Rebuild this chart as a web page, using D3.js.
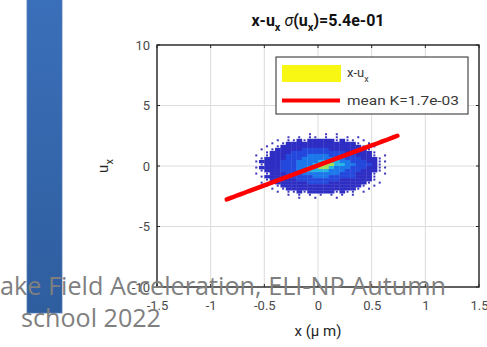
<!DOCTYPE html>
<html><head><meta charset="utf-8">
<script src="https://cdn.jsdelivr.net/npm/d3@7"></script>
<style>body{margin:0;background:#fff}svg{display:block}</style>
</head><body>
<script>
// ---- data ----
const xTicks = [-1.5, -1, -0.5, 0, 0.5, 1, 1.5];
const yTicks = [-10, -5, 0, 5, 10];
const xTickLabels = ["-1.5", "-1", "-0.5", "0", "0.5", "1", "1.5"];
const yTickLabels = ["-10", "-5", "0", "5", "10"];
// density grid: columns x from -0.65 to 0.65 step 0.05, rows y from 2.75 down to -2.75 step 0.25
const densX0 = -0.65, densDX = 0.05, densY0 = 2.75, densDY = 0.25;
const densityRows = [
  "00000000000100101000000000",
  "00000001010110101010100000",
  "00000101121222221211010000",
  "00001012222222222222101000",
  "00010122222222222222210100",
  "00101222223333322222221000",
  "00012222333333333322222100",
  "01012223333444433333222101",
  "00122223334444444433322210",
  "01222233344445555443332211",
  "00122233344455665544333210",
  "01222233344556654443332211",
  "00122233344555544433322210",
  "01012223334444444333222101",
  "00122222333344433333222100",
  "00012222233333333222222100",
  "00101222222333322222221010",
  "00010122222222222222210100",
  "00001012222222222222101000",
  "00000101121222221211010000",
  "00000001010101010101000000",
  "00000000010010001000000000"
];
const meanX = [-0.85,-0.8,-0.75,-0.7,-0.65,-0.6,-0.55,-0.5,-0.45,-0.4,-0.35,-0.3,-0.25,-0.2,-0.15,-0.1,-0.05,0,0.05,0.1,0.15,0.2,0.25,0.3,0.35,0.4,0.45,0.5,0.55,0.6,0.65,0.7,0.74];
const meanY = [-2.76,-2.6,-2.42,-2.27,-2.09,-1.93,-1.76,-1.6,-1.44,-1.27,-1.1,-0.94,-0.78,-0.61,-0.45,-0.28,-0.12,0.05,0.21,0.38,0.54,0.71,0.87,1.04,1.2,1.37,1.53,1.7,1.86,2.03,2.19,2.36,2.5];
const levelColors = ["none", "#3a34b8", "#2e2ec4", "#2448dc", "#1c78ea", "#28b4e4", "#9ee05a"];

const W = 487, H = 347;
const FONT = "Roboto, 'Liberation Sans', sans-serif";
const svg = d3.select("body").append("svg").attr("width", W).attr("height", H);

// slide background bar
const defs = svg.append("defs");
const g1 = defs.append("linearGradient").attr("id","barg").attr("x1",0).attr("y1",0).attr("x2",0).attr("y2",1);
g1.append("stop").attr("offset","0%").attr("stop-color","#3a6fb9");
g1.append("stop").attr("offset","100%").attr("stop-color","#2f5e9f");
svg.append("rect").attr("x",26).attr("y",-2).attr("width",37).attr("height",316).attr("fill","#e6e9ee");
svg.append("rect").attr("x",27).attr("y",-2).attr("width",35).attr("height",315).attr("fill","url(#barg)").attr("stroke","#5b82bd").attr("stroke-width",0.6);

const L = 157, R = 479, T = 45, B = 287;
const x = d3.scaleLinear().domain([-1.5, 1.5]).range([L, R]);
const y = d3.scaleLinear().domain([-10, 10]).range([B, T]);

// grid
const grid = svg.append("g");
xTicks.forEach(t => grid.append("line").attr("x1", x(t)).attr("x2", x(t)).attr("y1", T).attr("y2", B).attr("stroke", "#dcdcdc").attr("stroke-width", 1));
yTicks.forEach(t => grid.append("line").attr("y1", y(t)).attr("y2", y(t)).attr("x1", L).attr("x2", R).attr("stroke", "#dcdcdc").attr("stroke-width", 1));

// density scatter
const dens = svg.append("g");
densityRows.forEach((row, j) => {
  row.split("").forEach((c, i) => {
    const v = +c;
    if (v === 0) return;
    const x0 = densX0 + i * densDX, y0 = densY0 - j * densDY;
    const px0 = x(x0), px1 = x(x0 + densDX), py0 = y(y0), py1 = y(y0 - densDY);
    if (v === 1) {
      dens.append("rect").attr("x", (px0 + px1) / 2 - 1).attr("y", (py0 + py1) / 2 - 1)
        .attr("width", 2).attr("height", 2).attr("fill", levelColors[1]);
    } else {
      dens.append("rect").attr("x", px0).attr("y", py0).attr("width", px1 - px0 + 0.3).attr("height", py1 - py0 + 0.3)
        .attr("fill", levelColors[v]);
    }
  });
});

// mean line
const pts = meanX.map((d, i) => [d, meanY[i]]);
svg.append("path").datum(pts)
  .attr("d", d3.line().x(d => x(d[0])).y(d => y(d[1])))
  .attr("fill", "none").attr("stroke", "#ff0000").attr("stroke-width", 4.5).attr("stroke-linecap", "round");

// axes
const axX = svg.append("g").attr("transform", `translate(0,${B})`)
  .call(d3.axisBottom(x).tickValues(xTicks).tickFormat((d, i) => xTickLabels[i]).tickSize(0).tickPadding(14));
const axY = svg.append("g").attr("transform", `translate(${L},0)`)
  .call(d3.axisLeft(y).tickValues(yTicks).tickFormat((d, i) => yTickLabels[i]).tickSize(0).tickPadding(7));
[axX, axY].forEach(a => {
  a.select(".domain").remove();
  a.selectAll("text").attr("font-family", FONT).attr("font-size", 13).attr("fill", "#4a4a4a");
});
// small inward ticks
xTicks.forEach(t => {
  svg.append("line").attr("x1", x(t)).attr("x2", x(t)).attr("y1", B).attr("y2", B - 3).attr("stroke", "#262626");
  svg.append("line").attr("x1", x(t)).attr("x2", x(t)).attr("y1", T).attr("y2", T + 3).attr("stroke", "#262626");
});
yTicks.forEach(t => {
  svg.append("line").attr("x1", L).attr("x2", L + 3).attr("y1", y(t)).attr("y2", y(t)).attr("stroke", "#262626");
  svg.append("line").attr("x1", R).attr("x2", R - 3).attr("y1", y(t)).attr("y2", y(t)).attr("stroke", "#262626");
});
svg.append("rect").attr("x", L).attr("y", T).attr("width", R - L).attr("height", B - T)
  .attr("fill", "none").attr("stroke", "#262626").attr("stroke-width", 1.4);

// title
const title = svg.append("text").attr("x", 318).attr("y", 26).attr("text-anchor", "middle")
  .attr("font-family", FONT).attr("font-size", 16).attr("font-weight", "bold").attr("fill", "#111");
title.append("tspan").text("x-u");
title.append("tspan").attr("font-size", 11).attr("dy", 5).text("x");
title.append("tspan").attr("dy", -5).text(" ");
title.append("tspan").attr("font-style", "italic").attr("font-weight", "normal").text("σ");
title.append("tspan").text("(u");
title.append("tspan").attr("font-size", 11).attr("dy", 5).text("x");
title.append("tspan").attr("dy", -5).text(")=5.4e-01");

// y label
const yl = svg.append("text").attr("transform", "translate(108,166) rotate(-90)").attr("text-anchor", "middle")
  .attr("font-family", FONT).attr("font-size", 15).attr("fill", "#262626");
yl.append("tspan").text("u");
yl.append("tspan").attr("font-size", 11).attr("dy", 5).text("x");

// x label
svg.append("text").attr("x", 318).attr("y", 336).attr("text-anchor", "middle")
  .attr("font-family", FONT).attr("font-size", 15).attr("fill", "#262626")
  .text("x (μ m)");

// legend
svg.append("rect").attr("x", 276).attr("y", 57).attr("width", 192).attr("height", 57)
  .attr("fill", "#fff").attr("stroke", "#262626").attr("stroke-width", 1);
svg.append("rect").attr("x", 282).attr("y", 65).attr("width", 59).attr("height", 17).attr("fill", "#f7f713");
svg.append("line").attr("x1", 282).attr("x2", 340).attr("y1", 100.5).attr("y2", 100.5).attr("stroke", "#ff0000").attr("stroke-width", 4);
const lt1 = svg.append("text").attr("x", 347).attr("y", 77).attr("font-family", FONT).attr("font-size", 13).attr("fill", "#3a3a3a");
lt1.append("tspan").text("x-u");
lt1.append("tspan").attr("font-size", 9).attr("dy", 5).text("x");
svg.append("text").attr("x", 347).attr("y", 105).attr("font-family", FONT).attr("font-size", 13).attr("fill", "#3a3a3a")
  .attr("textLength", 112).attr("lengthAdjust", "spacingAndGlyphs")
  .text("mean K=1.7e-03");

// slide footer text overlay
svg.append("text").attr("x", 0).attr("y", 295).attr("textLength", 446).attr("lengthAdjust", "spacingAndGlyphs")
  .attr("font-family", "'Open Sans', 'Liberation Sans', sans-serif").attr("font-size", 25).attr("fill", "#7f7f7f")
  .text("ake Field Acceleration, ELI-NP Autumn");
svg.append("text").attr("x", 21).attr("y", 327).attr("textLength", 140).attr("lengthAdjust", "spacingAndGlyphs")
  .attr("font-family", "'Open Sans', 'Liberation Sans', sans-serif").attr("font-size", 25).attr("fill", "#7f7f7f")
  .text("school 2022");
</script>
</body></html>
